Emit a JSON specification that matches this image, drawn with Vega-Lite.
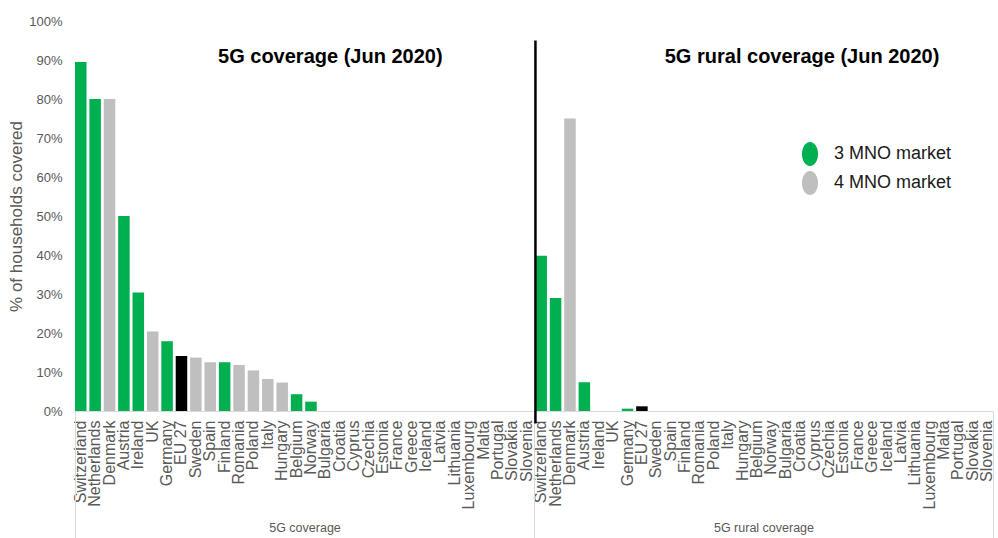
{
  "$schema": "https://vega.github.io/schema/vega-lite/v6.json",
  "autosize": {"type": "none"},
  "width": 918,
  "height": 390,
  "padding": {"left": 75, "top": 21, "right": 5, "bottom": 127},
  "background": "white",
  "config": {"view": {"stroke": null}, "font": "Liberation Sans"},
  "datasets": {
    "main": [
      {"key": "5G coverage|Switzerland", "group": "5G coverage", "market": "3 MNO market", "value": 89.5},
      {"key": "5G coverage|Netherlands", "group": "5G coverage", "market": "3 MNO market", "value": 80},
      {"key": "5G coverage|Denmark", "group": "5G coverage", "market": "4 MNO market", "value": 80},
      {"key": "5G coverage|Austria", "group": "5G coverage", "market": "3 MNO market", "value": 50},
      {"key": "5G coverage|Ireland", "group": "5G coverage", "market": "3 MNO market", "value": 30.4},
      {"key": "5G coverage|UK", "group": "5G coverage", "market": "4 MNO market", "value": 20.4},
      {"key": "5G coverage|Germany", "group": "5G coverage", "market": "3 MNO market", "value": 17.9},
      {"key": "5G coverage|EU 27", "group": "5G coverage", "market": "EU 27", "value": 14.1},
      {"key": "5G coverage|Sweden", "group": "5G coverage", "market": "4 MNO market", "value": 13.7},
      {"key": "5G coverage|Spain", "group": "5G coverage", "market": "4 MNO market", "value": 12.5},
      {"key": "5G coverage|Finland", "group": "5G coverage", "market": "3 MNO market", "value": 12.5},
      {"key": "5G coverage|Romania", "group": "5G coverage", "market": "4 MNO market", "value": 11.8},
      {"key": "5G coverage|Poland", "group": "5G coverage", "market": "4 MNO market", "value": 10.4},
      {"key": "5G coverage|Italy", "group": "5G coverage", "market": "4 MNO market", "value": 8.2},
      {"key": "5G coverage|Hungary", "group": "5G coverage", "market": "4 MNO market", "value": 7.3},
      {"key": "5G coverage|Belgium", "group": "5G coverage", "market": "3 MNO market", "value": 4.3},
      {"key": "5G coverage|Norway", "group": "5G coverage", "market": "3 MNO market", "value": 2.4},
      {"key": "5G coverage|Bulgaria", "group": "5G coverage", "market": "3 MNO market", "value": 0},
      {"key": "5G coverage|Croatia", "group": "5G coverage", "market": "3 MNO market", "value": 0},
      {"key": "5G coverage|Cyprus", "group": "5G coverage", "market": "3 MNO market", "value": 0},
      {"key": "5G coverage|Czechia", "group": "5G coverage", "market": "3 MNO market", "value": 0},
      {"key": "5G coverage|Estonia", "group": "5G coverage", "market": "3 MNO market", "value": 0},
      {"key": "5G coverage|France", "group": "5G coverage", "market": "4 MNO market", "value": 0},
      {"key": "5G coverage|Greece", "group": "5G coverage", "market": "3 MNO market", "value": 0},
      {"key": "5G coverage|Iceland", "group": "5G coverage", "market": "3 MNO market", "value": 0},
      {"key": "5G coverage|Latvia", "group": "5G coverage", "market": "3 MNO market", "value": 0},
      {"key": "5G coverage|Lithuania", "group": "5G coverage", "market": "3 MNO market", "value": 0},
      {"key": "5G coverage|Luxembourg", "group": "5G coverage", "market": "3 MNO market", "value": 0},
      {"key": "5G coverage|Malta", "group": "5G coverage", "market": "3 MNO market", "value": 0},
      {"key": "5G coverage|Portugal", "group": "5G coverage", "market": "3 MNO market", "value": 0},
      {"key": "5G coverage|Slovakia", "group": "5G coverage", "market": "3 MNO market", "value": 0},
      {"key": "5G coverage|Slovenia", "group": "5G coverage", "market": "3 MNO market", "value": 0},
      {"key": "5G rural coverage|Switzerland", "group": "5G rural coverage", "market": "3 MNO market", "value": 39.8},
      {"key": "5G rural coverage|Netherlands", "group": "5G rural coverage", "market": "3 MNO market", "value": 29},
      {"key": "5G rural coverage|Denmark", "group": "5G rural coverage", "market": "4 MNO market", "value": 75},
      {"key": "5G rural coverage|Austria", "group": "5G rural coverage", "market": "3 MNO market", "value": 7.4},
      {"key": "5G rural coverage|Ireland", "group": "5G rural coverage", "market": "3 MNO market", "value": 0},
      {"key": "5G rural coverage|UK", "group": "5G rural coverage", "market": "4 MNO market", "value": 0},
      {"key": "5G rural coverage|Germany", "group": "5G rural coverage", "market": "3 MNO market", "value": 0.6},
      {"key": "5G rural coverage|EU 27", "group": "5G rural coverage", "market": "EU 27", "value": 1.2},
      {"key": "5G rural coverage|Sweden", "group": "5G rural coverage", "market": "4 MNO market", "value": 0},
      {"key": "5G rural coverage|Spain", "group": "5G rural coverage", "market": "4 MNO market", "value": 0},
      {"key": "5G rural coverage|Finland", "group": "5G rural coverage", "market": "3 MNO market", "value": 0},
      {"key": "5G rural coverage|Romania", "group": "5G rural coverage", "market": "4 MNO market", "value": 0},
      {"key": "5G rural coverage|Poland", "group": "5G rural coverage", "market": "4 MNO market", "value": 0},
      {"key": "5G rural coverage|Italy", "group": "5G rural coverage", "market": "4 MNO market", "value": 0},
      {"key": "5G rural coverage|Hungary", "group": "5G rural coverage", "market": "4 MNO market", "value": 0},
      {"key": "5G rural coverage|Belgium", "group": "5G rural coverage", "market": "3 MNO market", "value": 0},
      {"key": "5G rural coverage|Norway", "group": "5G rural coverage", "market": "3 MNO market", "value": 0},
      {"key": "5G rural coverage|Bulgaria", "group": "5G rural coverage", "market": "3 MNO market", "value": 0},
      {"key": "5G rural coverage|Croatia", "group": "5G rural coverage", "market": "3 MNO market", "value": 0},
      {"key": "5G rural coverage|Cyprus", "group": "5G rural coverage", "market": "3 MNO market", "value": 0},
      {"key": "5G rural coverage|Czechia", "group": "5G rural coverage", "market": "3 MNO market", "value": 0},
      {"key": "5G rural coverage|Estonia", "group": "5G rural coverage", "market": "3 MNO market", "value": 0},
      {"key": "5G rural coverage|France", "group": "5G rural coverage", "market": "4 MNO market", "value": 0},
      {"key": "5G rural coverage|Greece", "group": "5G rural coverage", "market": "3 MNO market", "value": 0},
      {"key": "5G rural coverage|Iceland", "group": "5G rural coverage", "market": "3 MNO market", "value": 0},
      {"key": "5G rural coverage|Latvia", "group": "5G rural coverage", "market": "3 MNO market", "value": 0},
      {"key": "5G rural coverage|Lithuania", "group": "5G rural coverage", "market": "3 MNO market", "value": 0},
      {"key": "5G rural coverage|Luxembourg", "group": "5G rural coverage", "market": "3 MNO market", "value": 0},
      {"key": "5G rural coverage|Malta", "group": "5G rural coverage", "market": "3 MNO market", "value": 0},
      {"key": "5G rural coverage|Portugal", "group": "5G rural coverage", "market": "3 MNO market", "value": 0},
      {"key": "5G rural coverage|Slovakia", "group": "5G rural coverage", "market": "3 MNO market", "value": 0},
      {"key": "5G rural coverage|Slovenia", "group": "5G rural coverage", "market": "3 MNO market", "value": 0}
    ]
  },
  "layer": [
    {
      "layer": [
        {
          "data": {"name": "main"},
          "mark": {"type": "bar"},
          "encoding": {
            "x": {
              "field": "key", "type": "nominal", "sort": null,
              "scale": {"type": "band", "paddingInner": 0.2, "paddingOuter": 0},
              "axis": {
                "orient": "bottom", "title": null, "labelAngle": -90,
                "labelExpr": "split(datum.value, '|')[1]",
                "labelFontSize": 16, "labelColor": "#595959", "labelPadding": 9,
                "labelOverlap": false, "ticks": false,
                "domainColor": "#d9d9d9", "domainWidth": 1, "grid": false
              }
            },
            "y": {
              "field": "value", "type": "quantitative",
              "scale": {"domain": [0, 100], "nice": false, "zero": true},
              "axis": {
                "title": "% of households covered", "titleFontSize": 17, "titleFontWeight": "normal",
                "titleColor": "#595959", "titlePadding": 3,
                "tickCount": 11,
                "labelExpr": "datum.value + '%'", "labelFontSize": 13, "labelColor": "#595959",
                "labelPadding": 13, "labelOverlap": false, "labelSeparation": 0, "labelFlush": false,
                "domain": false, "ticks": false, "grid": false
              }
            },
            "color": {
              "field": "market", "type": "nominal",
              "scale": {"domain": ["3 MNO market", "4 MNO market", "EU 27"], "range": ["#00b050", "#bfbfbf", "#000000"]},
              "legend": {
                "values": ["3 MNO market", "4 MNO market"], "title": null, "orient": "none",
                "legendX": 723, "legendY": 121, "padding": 0,
                "symbolType": "M0,-1A0.67,1 0 1,1 0,1A0.67,1 0 1,1 0,-1Z", "symbolSize": 576,
                "symbolStrokeWidth": 0, "symbolOpacity": 1,
                "labelFontSize": 18, "labelColor": "#1a1a1a", "labelOffset": 12, "labelLimit": 300,
                "rowPadding": 5
              }
            }
          }
        },
        {
          "data": {"values": [{"key": "5G rural coverage|Switzerland", "top": 95, "bottom": -3.2}]},
          "mark": {"type": "rule", "color": "#000000", "strokeWidth": 2.5},
          "encoding": {
            "x": {"field": "key", "type": "nominal", "sort": null, "bandPosition": 0},
            "y": {"field": "top", "type": "quantitative"},
            "y2": {"field": "bottom"}
          }
        },
        {
          "data": {"values": [{"key": "5G coverage|Bulgaria", "label": "5G coverage (Jun 2020)", "pos": 90.7}]},
          "mark": {"type": "text", "fontSize": 20, "fontWeight": "bold", "color": "#000000", "align": "center", "baseline": "middle"},
          "encoding": {
            "x": {"field": "key", "type": "nominal", "sort": null, "bandPosition": 0.93},
            "y": {"field": "pos", "type": "quantitative"},
            "text": {"field": "label"}
          }
        },
        {
          "data": {"values": [{"key": "5G rural coverage|Croatia", "label": "5G rural coverage (Jun 2020)", "pos": 90.7}]},
          "mark": {"type": "text", "fontSize": 20, "fontWeight": "bold", "color": "#000000", "align": "center", "baseline": "middle"},
          "encoding": {
            "x": {"field": "key", "type": "nominal", "sort": null, "bandPosition": 0.66},
            "y": {"field": "pos", "type": "quantitative"},
            "text": {"field": "label"}
          }
        }
      ]
    },
    {
      "data": {"name": "main"},
      "mark": {"type": "rule", "opacity": 0},
      "encoding": {
        "x": {
          "field": "group", "type": "nominal", "sort": null,
          "scale": {"type": "band", "paddingInner": 0, "paddingOuter": 0},
          "axis": {
            "orient": "bottom", "title": null, "labelAngle": 0, "domain": false,
            "ticks": true, "tickBand": "extent", "tickSize": 127, "tickColor": "#d9d9d9", "tickWidth": 1,
            "labelPadding": -17, "labelFontSize": 12.5, "labelColor": "#595959", "labelBaseline": "top", "grid": false
          }
        }
      }
    }
  ],
  "resolve": {"scale": {"x": "independent"}, "axis": {"x": "independent"}}
}
